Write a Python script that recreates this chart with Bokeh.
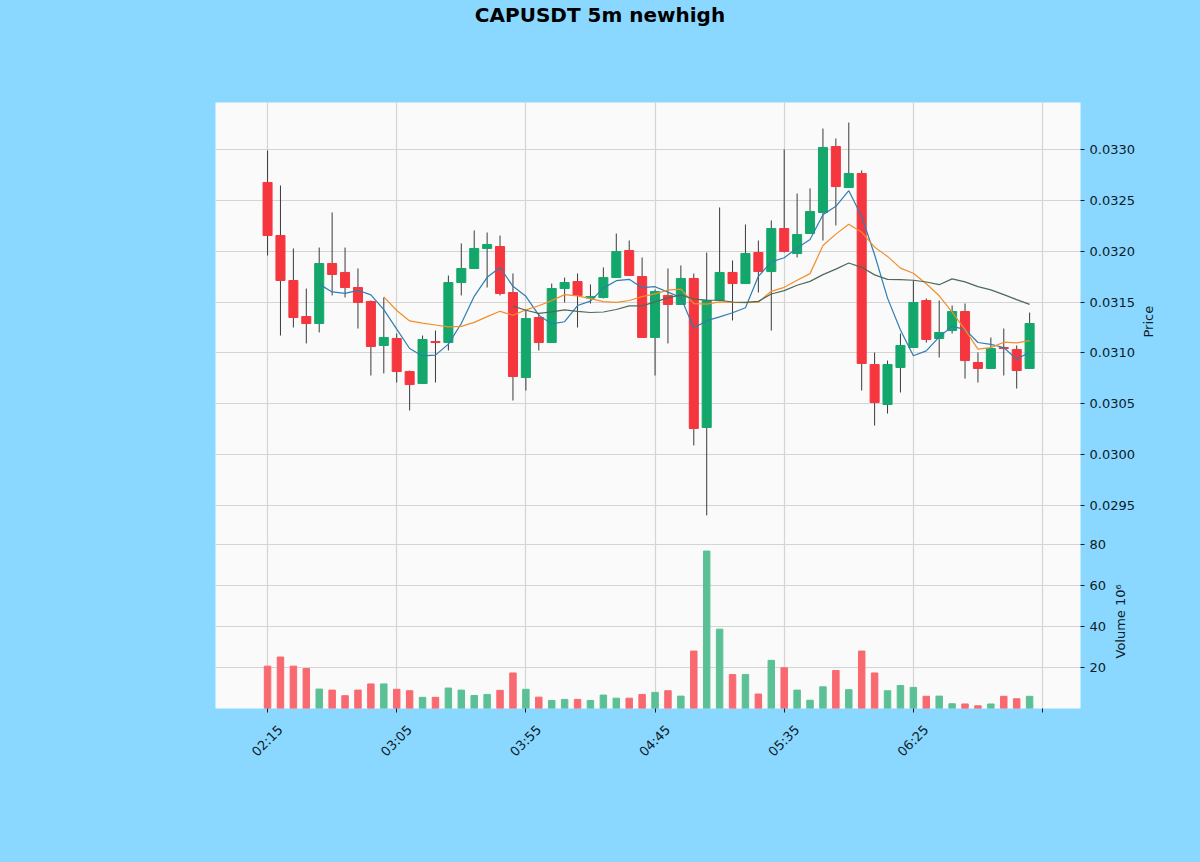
import math
import pandas as pd
from bokeh.plotting import figure
from bokeh.layouts import column
from bokeh.models import (ColumnDataSource, FixedTicker, Range1d, Div, Grid, LinearAxis,
                          GlobalInlineStyleSheet, PrintfTickFormatter)
from bokeh.embed import file_html
from bokeh.resources import INLINE

title_text = "CAPUSDT 5m newhigh"
tick_labels = ["02:15", "03:05", "03:55", "04:45", "05:35", "06:25", ""]
tick_pos = [0, 10, 20, 30, 40, 50, 60]
price_label = "Price"
volume_label = "Volume  10\u2076"

opens = [0.032676, 0.032154, 0.031712, 0.031358, 0.031289, 0.031879, 0.031791, 0.031643, 0.031506, 0.031073,
         0.031142, 0.030817, 0.030699, 0.031112, 0.031102, 0.031692, 0.031830, 0.032027, 0.032046, 0.031594,
         0.030758, 0.031348, 0.031102, 0.031633, 0.031702, 0.031540, 0.031545, 0.031741, 0.032007, 0.031751,
         0.031152, 0.031565, 0.031476, 0.031732, 0.030267, 0.031515, 0.031791, 0.031682, 0.031987, 0.031800,
         0.032223, 0.031977, 0.032174, 0.032381, 0.033029, 0.032626, 0.032764, 0.030886, 0.030493, 0.030857,
         0.031053, 0.031515, 0.031142, 0.031220, 0.031407, 0.030906, 0.030847, 0.031053, 0.031034, 0.030847]
highs = [0.032990, 0.032646, 0.032027, 0.031633, 0.032036, 0.032381, 0.032036, 0.031830, 0.031515, 0.031545,
         0.031191, 0.030827, 0.031171, 0.031220, 0.031761, 0.032076, 0.032204, 0.032184, 0.032154, 0.031781,
         0.031417, 0.031388, 0.031682, 0.031741, 0.031781, 0.031673, 0.031840, 0.032174, 0.032105, 0.031938,
         0.031623, 0.031830, 0.031860, 0.031781, 0.031987, 0.032430, 0.031909, 0.032263, 0.032105, 0.032302,
         0.033000, 0.032567, 0.032617, 0.033206, 0.033108, 0.033265, 0.032794, 0.031004, 0.030925, 0.031191,
         0.031712, 0.031535, 0.031515, 0.031466, 0.031486, 0.031004, 0.031152, 0.031240, 0.031073, 0.031397]
lows = [0.031958, 0.031171, 0.031250, 0.031093, 0.031201, 0.031565, 0.031545, 0.031240, 0.030778, 0.030798,
        0.030709, 0.030434, 0.030699, 0.030709, 0.031024, 0.031565, 0.031830, 0.031643, 0.031565, 0.030532,
        0.030630, 0.031024, 0.031102, 0.031496, 0.031250, 0.031486, 0.031535, 0.031741, 0.031761, 0.031152,
        0.030778, 0.031093, 0.031476, 0.030090, 0.029402, 0.031515, 0.031319, 0.031682, 0.031594, 0.031220,
        0.031987, 0.031938, 0.032174, 0.032105, 0.032253, 0.032626, 0.030630, 0.030286, 0.030404, 0.030611,
        0.031053, 0.031102, 0.030955, 0.031191, 0.030748, 0.030709, 0.030847, 0.030778, 0.030650, 0.030847]
closes = [0.032154, 0.031712, 0.031348, 0.031289, 0.031879, 0.031771, 0.031643, 0.031496, 0.031063, 0.031152,
          0.030817, 0.030689, 0.031132, 0.031102, 0.031692, 0.031830, 0.032027, 0.032066, 0.031584, 0.030768,
          0.031338, 0.031102, 0.031633, 0.031692, 0.031565, 0.031555, 0.031741, 0.031997, 0.031761, 0.031152,
          0.031604, 0.031476, 0.031732, 0.030257, 0.031515, 0.031791, 0.031682, 0.031977, 0.031800, 0.032223,
          0.031997, 0.032164, 0.032390, 0.033020, 0.032636, 0.032764, 0.030896, 0.030512, 0.030886, 0.031073,
          0.031496, 0.031132, 0.031201, 0.031407, 0.030925, 0.030847, 0.031043, 0.031043, 0.030827, 0.031289]
volumes = [20.9, 25.3, 20.9, 19.7, 9.8, 9.3, 6.6, 9.3, 12.3, 12.3,
           9.7, 9.0, 5.8, 5.8, 10.3, 9.3, 6.7, 7.2, 9.2, 17.6,
           9.7, 5.9, 4.3, 4.8, 4.8, 4.3, 6.9, 5.4, 5.4, 7.2,
           8.2, 9.0, 6.4, 28.2, 76.6, 38.8, 16.8, 16.8, 7.4, 23.7,
           20.1, 9.3, 4.4, 10.9, 18.8, 9.5, 28.2, 17.6, 9.0, 11.5,
           10.6, 6.3, 6.4, 2.7, 2.6, 1.7, 2.6, 6.3, 5.1, 6.3]

UP = "#13a76b"
DOWN = "#f5363e"
UP_V = "#5cc096"
DOWN_V = "#f86970"
BG = "#8AD8FF"
FG = "#0d1b2a"
GRID = "#d4d4d4"

n = len(closes)
df = pd.DataFrame({"open": opens, "high": highs, "low": lows, "close": closes, "vol": volumes})
df["x"] = list(range(n))
df["top"] = df[["open", "close"]].max(axis=1)
df["bot"] = df[["open", "close"]].min(axis=1)
df["col"] = [UP if c >= o else DOWN for o, c in zip(opens, closes)]
df["vcol"] = [UP_V if c >= o else DOWN_V for o, c in zip(opens, closes)]
src = ColumnDataSource(df)

ma = {}
for w in (5, 10, 20):
    m = df["close"].rolling(w).mean()
    ma[w] = ColumnDataSource(dict(x=df["x"][m.notna()], y=m[m.notna()]))
ma_colors = {5: "#2f7db3", 10: "#f28e2b", 20: "#4d6b58"}

X0, X1 = -4.03, 62.94
xr = Range1d(X0, X1)


def style(p):
    p.background_fill_color = "#fafafa"
    p.border_fill_color = BG
    p.outline_line_color = None
    p.min_border_left = 215
    p.min_border_right = 120
    for ax in p.yaxis:
        ax.axis_line_color = None
        ax.major_tick_line_color = FG
        ax.minor_tick_line_color = None
        ax.major_tick_out = 4
        ax.major_tick_in = 0
        ax.major_label_text_font = "DejaVu Sans"
        ax.major_label_text_font_size = "13px"
        ax.major_label_text_color = FG
    p.ygrid.grid_line_color = GRID
    p.ygrid.grid_line_width = 1.2


def side_label(p, text, frame_px, pos_px, standoff):
    # an extra right axis (pixel-unit range) whose single tick label is the axis title
    p.extra_y_ranges = {"lab": Range1d(0, frame_px)}
    ax = LinearAxis(y_range_name="lab", ticker=FixedTicker(ticks=[pos_px]))
    ax.major_label_overrides = {pos_px: text}
    ax.major_label_orientation = math.pi / 2
    ax.axis_line_color = None
    ax.major_tick_line_color = None
    ax.minor_tick_line_color = None
    ax.major_tick_out = 0
    ax.major_tick_in = 0
    ax.major_label_standoff = standoff
    ax.major_label_text_font = "DejaVu Sans"
    ax.major_label_text_font_size = "13px"
    ax.major_label_text_color = FG
    p.add_layout(ax, "right")


# price panel
p1 = figure(width=1200, height=511, x_range=xr, y_range=Range1d(0.029146, 0.033462),
            output_backend="svg", toolbar_location=None, x_axis_location=None,
            y_axis_location="right", tools="")
p1.min_border_top = 72
p1.min_border_bottom = 0
style(p1)
p1.yaxis.ticker = FixedTicker(ticks=[0.0295, 0.0300, 0.0305, 0.0310, 0.0315, 0.0320, 0.0325, 0.0330])
p1.yaxis.formatter = PrintfTickFormatter(format="%.4f")
side_label(p1, price_label, 439, 204, 11)
p1.add_layout(Grid(dimension=0, ticker=FixedTicker(ticks=tick_pos),
                   grid_line_color=GRID, grid_line_width=1.2))
p1.segment(x0="x", y0="low", x1="x", y1="high", source=src, line_color="#3a3a3a", line_width=1)
p1.vbar(x="x", width=0.7, top="top", bottom="bot", source=src,
        fill_color="col", line_color="col", line_width=1)
for w in (5, 10, 20):
    p1.line("x", "y", source=ma[w], line_color=ma_colors[w], line_width=1.2)

# volume panel (overlaps the price panel with a transparent border so its top label fits)
p2 = figure(width=1200, height=322, x_range=xr, y_range=Range1d(0.4, 81.7),
            output_backend="svg", toolbar_location=None,
            y_axis_location="right", tools="", margin=(-9, 0, 0, 0))
p2.min_border_top = 8
p2.min_border_bottom = 146
style(p2)
p2.border_fill_alpha = 0
p2.yaxis.ticker = FixedTicker(ticks=[20, 40, 60, 80])
side_label(p2, volume_label, 168, 50, 11)

# axis A: tick marks only, at the true positions (labels not drawn)
p2.xaxis.ticker = FixedTicker(ticks=tick_pos)
p2.xaxis.major_label_text_font_size = "1px"
p2.xaxis.major_label_text_color = None
p2.xaxis.major_label_standoff = 0
p2.xaxis.axis_line_color = None
p2.xaxis.major_tick_line_color = FG
p2.xaxis.minor_tick_line_color = None
p2.xaxis.major_tick_out = 4
p2.xaxis.major_tick_in = 0

# axis B: rotated labels, shifted so each label is centred under its tick
shift = 1.0
p2.extra_x_ranges = {"labx": Range1d(X0 - shift, X1 - shift)}
axb = LinearAxis(x_range_name="labx", ticker=FixedTicker(ticks=tick_pos[:-1]))
axb.major_label_overrides = {t: l for t, l in zip(tick_pos, tick_labels)}
axb.major_label_orientation = math.pi / 4
axb.axis_line_color = None
axb.major_tick_line_color = None
axb.minor_tick_line_color = None
axb.major_tick_out = 0
axb.major_tick_in = 0
axb.major_label_standoff = 15
axb.major_label_text_font = "DejaVu Sans"
axb.major_label_text_font_size = "13px"
axb.major_label_text_color = FG
p2.add_layout(axb, "below")

p2.xgrid.ticker = FixedTicker(ticks=tick_pos)
p2.xgrid.grid_line_color = GRID
p2.xgrid.grid_line_width = 1.2
p2.vbar(x="x", width=0.5, top="vol", bottom=0, source=src,
        fill_color="vcol", line_color="vcol", line_width=1)

title = Div(text=title_text, width=1200, height=22, margin=(8, 0, 0, 0),
            styles={"text-align": "center", "font-family": "DejaVu Sans",
                    "font-weight": "bold", "font-size": "20px", "line-height": "14px",
                    "color": "#000000", "width": "1200px"})

layout = column(title, p1, p2, spacing=0,
                stylesheets=[GlobalInlineStyleSheet(
                    css="html, body { background-color: %s; overflow: hidden; }" % BG)])

open("out.html", "w").write(file_html(layout, INLINE))
